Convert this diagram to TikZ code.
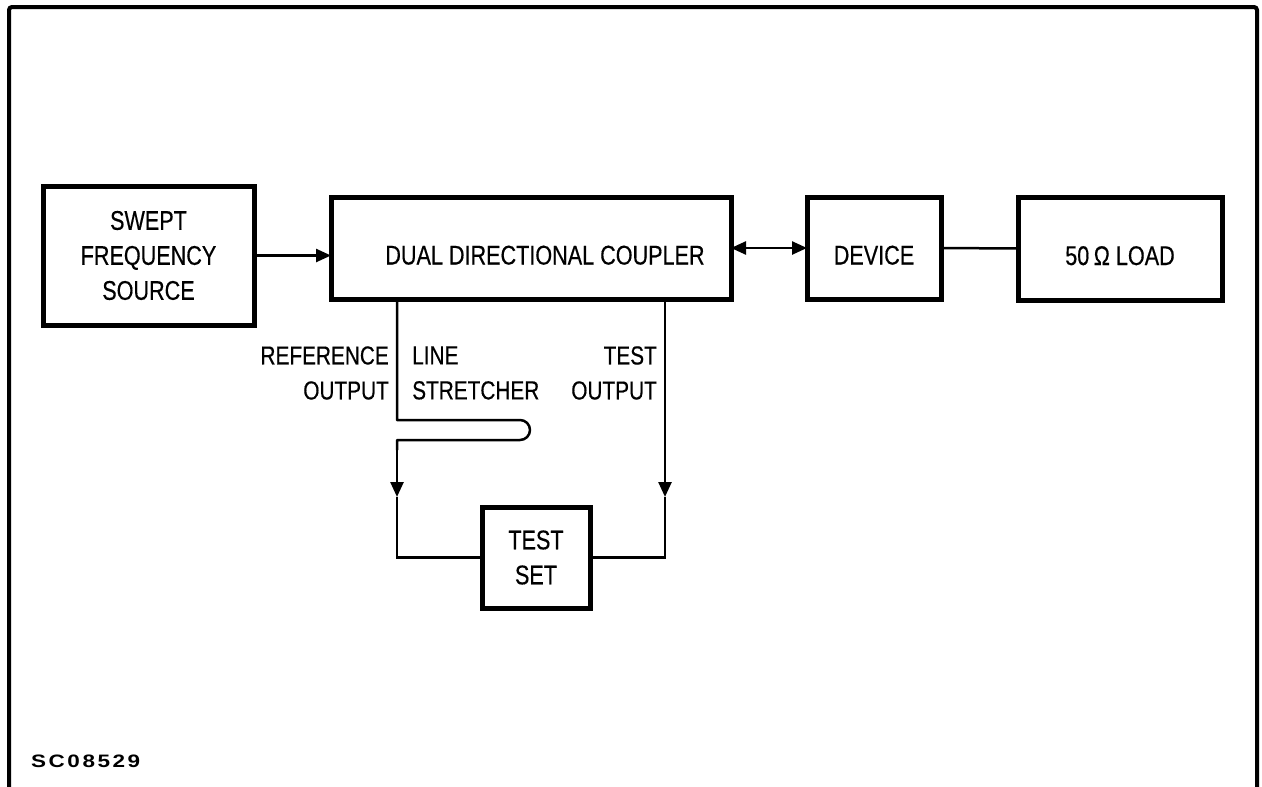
\documentclass[tikz,border=0pt]{standalone}
\usepackage{fontspec}
\setmainfont{Liberation Sans}[FakeStretch=0.8,FakeBold=0.4]
\newfontfamily\codefont{Liberation Sans Bold}[FakeStretch=1.25,LetterSpace=14]
\usetikzlibrary{arrows.meta}
\begin{document}
\begin{tikzpicture}[x=1pt,y=-1pt,
  blk/.style={draw,line width=5pt,inner sep=0pt,outer sep=0pt,align=center,
    font=\fontsize{27}{35}\selectfont},
  low/.style={text height=36pt,text depth=3pt},
  lbl/.style={inner sep=0pt,font=\fontsize{26}{35}\selectfont},
  wire/.style={line width=2.5pt},
  tip/.style={wire,-{Triangle[length=15pt,width=13pt]}},
  dtip/.style={wire,{Triangle[length=15pt,width=13pt]}-{Triangle[length=15pt,width=13pt]}},
  frame/.style={line width=4pt,rounded corners=3pt}]
\useasboundingbox (0,0) rectangle (1262,787);
% frame
\draw[frame] (9,790) -- (9,7) -- (1257,7) -- (1257,790);
% blocks
\node[blk,minimum width=211pt,minimum height=139pt] (swept) at (148.5,255.5) {SWEPT\\FREQUENCY\\SOURCE};
\node[blk,low,minimum width=400pt,minimum height=102pt] (coupler) at (531,248) {\hspace*{28pt}DUAL DIRECTIONAL COUPLER};
\node[blk,low,minimum width=134pt,minimum height=102pt] (device) at (874,248) {DEVICE};
\node[blk,low,minimum width=204pt,minimum height=103pt] (load) at (1120,248.5) {50\,Ω LOAD};
\node[blk,minimum width=108pt,minimum height=101pt] (testset) at (536,557.5) {TEST\\SET};
% connectors
\draw[tip] (swept.east) -- (swept.east -| coupler.west);
\draw[dtip] (coupler.east) -- (device.west);
\draw[wire] (device.east) -- (load.west);
\coordinate (r0) at (397,299);
\coordinate (ra) at (397,497);
\coordinate (t0) at (665,299);
\coordinate (ta) at (665,497);
\draw[wire,line join=round] (r0) -- (397,420) -- (520,420)
  arc[start angle=90,end angle=-90,radius=10pt] -- (397,440) -- (397,450);
\draw[tip] (397,448) -- (ra);
\draw[wire] (ra) |- (testset.west);
\draw[tip] (t0) -- (ta);
\draw[wire] (ta) |- (testset.east);
% labels
\node[lbl,anchor=east,align=right] (refl) at (389,373) {REFERENCE\\OUTPUT};
\node[lbl,anchor=west,align=left] (lsl) at (412,373) {LINE\\STRETCHER};
\node[lbl,anchor=east,align=right] (tol) at (657,373) {TEST\\OUTPUT};
\node[inner sep=0pt,anchor=west,font=\codefont\fontsize{18}{18}\selectfont] (code) at (31,761) {SC08529};
\end{tikzpicture}
\end{document}
